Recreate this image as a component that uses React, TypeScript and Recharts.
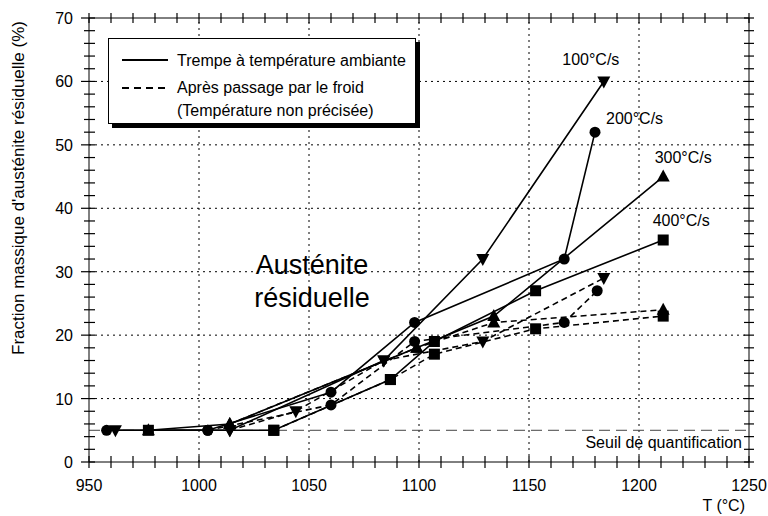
import { LineChart, Line, XAxis, YAxis, ReferenceLine } from "recharts";

// Temperature (°C) / residual austenite (%)
// Quench at room temperature (solid)
const t100 = [962, 1014, 1084, 1129, 1184];
const a100 = [5, 5, 16, 32, 60];
const t200 = [958, 1004, 1060, 1098, 1166, 1180];
const a200 = [5, 5, 11, 22, 32, 52];
const t300 = [977, 1014, 1099, 1134, 1211];
const a300 = [5, 6, 18, 23, 45];
const t400 = [977, 1034, 1087, 1107, 1153, 1211];
const a400 = [5, 5, 13, 19, 27, 35];

// After cold treatment (dashed)
const c100T = [1014, 1044, 1084, 1129, 1184];
const c100A = [5, 8, 16, 19, 29];
const c200T = [1004, 1060, 1098, 1166, 1181];
const c200A = [5, 9, 19, 22, 27];
const c300T = [1014, 1099, 1134, 1211];
const c300A = [6, 18, 22, 24];
const c400T = [1034, 1087, 1107, 1153, 1211];
const c400A = [5, 13, 17, 21, 23];

const rateLabels = ["100°C/s", "200°C/s", "300°C/s", "400°C/s"];

const xTicks = Array.from({ length: 31 }, (_, i) => 950 + i * 10);
const yTicks = Array.from({ length: 36 }, (_, i) => i * 2);
const xGrid = [1000, 1050, 1100, 1150, 1200];
const yGrid = [10, 20, 30, 40, 50, 60];
const threshold = 5;
const X_MIN = 950;
const X_MAX = 1250;
const Y_MIN = 0;
const Y_MAX = 70;

const FONT = "'Liberation Sans', Arial, sans-serif";

// plot box is 660 x 444 px: convert tick lengths (px) to data units
const PX_X = (X_MAX - X_MIN) / 660;
const PX_Y = (Y_MAX - Y_MIN) / 444;

const toPoints = (xs: number[], ys: number[]) => xs.map((x, i) => ({ x, y: ys[i] }));

type Shape = "down" | "circle" | "up" | "square";

const series = [
  { key: "s100", data: toPoints(t100, a100), shape: "down" as Shape, dashed: false, label: rateLabels[0], lx: -13, ly: -16, anchor: "middle" },
  { key: "s200", data: toPoints(t200, a200), shape: "circle" as Shape, dashed: false, label: rateLabels[1], lx: 11, ly: -8, anchor: "start" },
  { key: "s300", data: toPoints(t300, a300), shape: "up" as Shape, dashed: false, label: rateLabels[2], lx: 20, ly: -14, anchor: "middle" },
  { key: "s400", data: toPoints(t400, a400), shape: "square" as Shape, dashed: false, label: rateLabels[3], lx: 18, ly: -14, anchor: "middle" },
  { key: "c100", data: toPoints(c100T, c100A), shape: "down" as Shape, dashed: true },
  { key: "c200", data: toPoints(c200T, c200A), shape: "circle" as Shape, dashed: true },
  { key: "c300", data: toPoints(c300T, c300A), shape: "up" as Shape, dashed: true },
  { key: "c400", data: toPoints(c400T, c400A), shape: "square" as Shape, dashed: true },
];

function Marker({ cx, cy, shape }: { cx: number; cy: number; shape: Shape }) {
  if (cx == null || cy == null) return null;
  switch (shape) {
    case "circle":
      return <circle cx={cx} cy={cy} r={5.5} fill="#000" />;
    case "square":
      return <rect x={cx - 5.5} y={cy - 5.5} width={11} height={11} fill="#000" />;
    case "up":
      return <path d={`M${cx},${cy - 7} L${cx + 6.5},${cy + 5} L${cx - 6.5},${cy + 5} Z`} fill="#000" />;
    default:
      return <path d={`M${cx},${cy + 7} L${cx + 6.5},${cy - 5} L${cx - 6.5},${cy - 5} Z`} fill="#000" />;
  }
}

const BottomLabel = (props: any) => {
  const { x, y, payload } = props;
  if (payload.value % 50 !== 0) return <g />;
  return (
    <text x={x} y={y + 29} textAnchor="middle" fontSize={16} fontFamily={FONT} fill="#000">
      {payload.value}
    </text>
  );
};

const LeftLabel = (props: any) => {
  const { x, y, payload } = props;
  if (payload.value % 10 !== 0) return <g />;
  return (
    <text x={x - 16} y={y + 6} textAnchor="end" fontSize={16} fontFamily={FONT} fill="#000">
      {payload.value}
    </text>
  );
};

// tick marks crossing the frame, drawn as short reference segments
const tickSegments = [
  ...xTicks.map((v) => ({
    id: `b${v}`,
    seg: [{ x: v, y: Y_MIN - 6 * PX_Y }, { x: v, y: Y_MIN + 6 * PX_Y }],
  })),
  ...xTicks.map((v) => ({
    id: `t${v}`,
    seg: [{ x: v, y: Y_MAX - 5 * PX_Y }, { x: v, y: Y_MAX + 5 * PX_Y }],
  })),
  ...yTicks.map((v) => ({
    id: `l${v}`,
    seg: [{ x: X_MIN - (v % 10 === 0 ? 8 : 5) * PX_X, y: v }, { x: X_MIN + 6 * PX_X, y: v }],
  })),
  ...yTicks.map((v) => ({
    id: `r${v}`,
    seg: [{ x: X_MAX - 5 * PX_X, y: v }, { x: X_MAX + 5 * PX_X, y: v }],
  })),
];

export default function App() {
  return (
    <div style={{ position: "absolute", left: 0, top: 0, width: 768, height: 516 }}>
      <LineChart width={768} height={516} margin={{ top: 18, right: 19, bottom: 24, left: 29 }}>
        <XAxis
          dataKey="x"
          type="number"
          domain={[X_MIN, X_MAX]}
          ticks={xTicks}
          interval={0}
          height={30}
          tickSize={0}
          tickMargin={0}
          tickLine={false}
          axisLine={{ stroke: "#000" }}
          tick={(p: any) => <BottomLabel {...p} />}
        />
        <YAxis
          type="number"
          domain={[Y_MIN, Y_MAX]}
          ticks={yTicks}
          interval={0}
          width={60}
          tickSize={0}
          tickMargin={0}
          tickLine={false}
          axisLine={{ stroke: "#000" }}
          tick={(p: any) => <LeftLabel {...p} />}
        />
        {xGrid.map((v) => (
          <ReferenceLine key={`gx${v}`} x={v} stroke="#000" strokeWidth={1} strokeDasharray="2 4" />
        ))}
        {yGrid.map((v) => (
          <ReferenceLine key={`gy${v}`} y={v} stroke="#000" strokeWidth={1} strokeDasharray="2 4" />
        ))}
        {/* top and right frame */}
        <ReferenceLine y={Y_MAX} stroke="#000" strokeWidth={1} />
        <ReferenceLine x={X_MAX} stroke="#000" strokeWidth={1} />
        {tickSegments.map((t) => (
          <ReferenceLine
            key={t.id}
            segment={t.seg}
            stroke="#000"
            strokeWidth={1.2}
            ifOverflow="visible"
          />
        ))}
        <ReferenceLine y={threshold} stroke="#444" strokeWidth={1} strokeDasharray="11 6" />
        {series.map((s) => (
          <Line
            key={s.key}
            data={s.data}
            dataKey="y"
            type="linear"
            stroke="#000"
            strokeWidth={1.6}
            strokeDasharray={s.dashed ? "6 4" : undefined}
            isAnimationActive={false}
            activeDot={false}
            dot={(p: any) => {
              const last = !s.dashed && p.index === s.data.length - 1;
              return (
                <g key={`${s.key}-${p.index}`}>
                  <Marker cx={p.cx} cy={p.cy} shape={s.shape} />
                  {last && (
                    <text
                      x={p.cx + (s as any).lx}
                      y={p.cy + (s as any).ly}
                      textAnchor={(s as any).anchor}
                      fontSize={16}
                      fontFamily={FONT}
                      fill="#000"
                    >
                      {s.label}
                    </text>
                  )}
                </g>
              );
            }}
          />
        ))}
      </LineChart>

      {/* axis titles and annotations */}
      <svg width={768} height={516} style={{ position: "absolute", left: 0, top: 0, pointerEvents: "none" }}>
        <text
          transform="translate(24,188) rotate(-90)"
          textAnchor="middle"
          fontSize={17}
          fontFamily={FONT}
          fill="#000"
        >
          Fraction massique d'austénite résiduelle (%)
        </text>
        <text x={745} y={511} textAnchor="end" fontSize={16} fontFamily={FONT} fill="#000">
          T (°C)
        </text>
        <text x={742} y={448} textAnchor="end" fontSize={16} fontFamily={FONT} fill="#000">
          Seuil de quantification
        </text>
        <text x={312} y={274} textAnchor="middle" fontSize={27} fontFamily={FONT} fill="#000">
          Austénite
        </text>
        <text x={312} y={307} textAnchor="middle" fontSize={27} fontFamily={FONT} fill="#000">
          résiduelle
        </text>
      </svg>

      {/* legend box with drop shadow */}
      <div
        style={{
          position: "absolute",
          left: 108,
          top: 38,
          width: 306,
          height: 84,
          border: "1.5px solid #000",
          background: "#fff",
          boxShadow: "4px 4px 0 #000",
        }}
      >
        <svg width={306} height={84} style={{ position: "absolute", left: 0, top: 0 }}>
          <line x1={13} x2={59} y1={21} y2={21} stroke="#000" strokeWidth={2.2} />
          <line x1={13} x2={59} y1={49} y2={49} stroke="#000" strokeWidth={2.2} strokeDasharray="7 5" />
          <text x={68} y={27} fontSize={16} fontFamily={FONT} fill="#000">Trempe à température ambiante</text>
          <text x={68} y={54} fontSize={16} fontFamily={FONT} fill="#000">Après passage par le froid</text>
          <text x={68} y={77} fontSize={16} fontFamily={FONT} fill="#000">(Température non précisée)</text>
        </svg>
      </div>
    </div>
  );
}
